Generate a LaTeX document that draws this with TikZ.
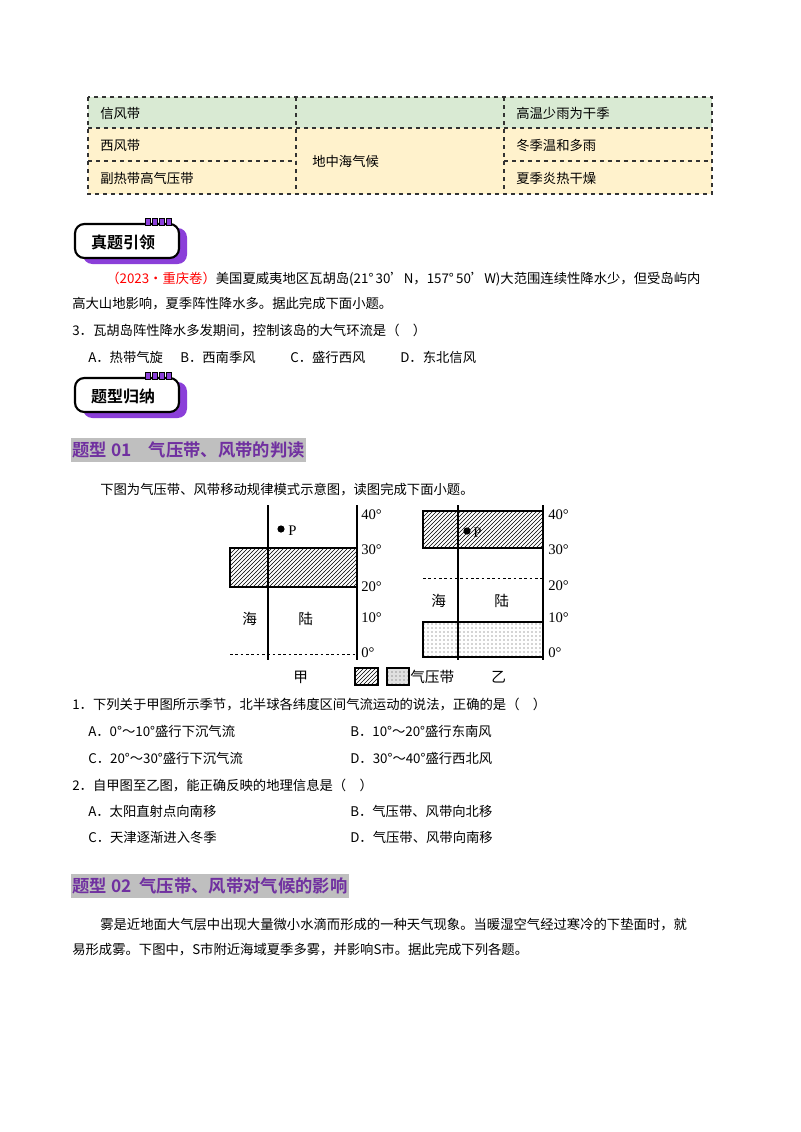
\documentclass[tikz,border=0pt]{standalone}
\usepackage{fontspec}
\setmainfont{Noto Sans CJK SC}[BoldFont={Noto Sans CJK SC Bold}]
\newfontfamily\serifnum{Liberation Serif}
\usetikzlibrary{patterns}
\definecolor{tgreen}{HTML}{D9EAD3}
\definecolor{tyellow}{HTML}{FFF2CC}
\definecolor{hpurple}{HTML}{7030A0}
\definecolor{badgep}{HTML}{8B3FD9}
\definecolor{hgray}{HTML}{BFBFBF}
\tikzset{
 txt/.style={anchor=west,inner sep=0pt,font=\fontsize{10}{12}\selectfont},
 big/.style={anchor=west,inner sep=0pt,font=\fontsize{11}{12}\selectfont},
 cell/.style={draw=black!80,dashed,line width=0.8pt},
 lbl/.style={anchor=west,inner sep=0pt,font=\serifnum\fontsize{11}{12}\selectfont},
 head/.style={anchor=west,fill=hgray,text=hpurple,font=\bfseries\fontsize{13}{15}\selectfont,inner xsep=1pt,inner ysep=3pt},
 axis/.style={line width=0.8pt},
 stip/.style={pattern=dots,pattern color=black!70,line width=0.8pt},
 dotl/.style={dashed,dash pattern=on 2pt off 2pt,line width=0.7pt}
}
\newcommand{\badge}[3]{%
 \fill[badgep,rounded corners=7pt] (#1+8,#2+4) rectangle (#1+112,#2+40);
 \draw[line width=1.6pt,fill=white,rounded corners=7pt] (#1,#2) rectangle (#1+104,#2+34);
 \foreach \k in {0,1,2,3}{\fill[badgep,draw=black,line width=0.6pt] (#1+70+\k*7,#2-6) rectangle (#1+75+\k*7,#2+1);}
 \node[font=\bfseries\fontsize{12}{14}\selectfont] at (#1+48,#2+18) {#3};}
\begin{document}
\begin{tikzpicture}[x=0.75pt,y=-0.75pt]
\useasboundingbox (0,0) rectangle (800,1132);
\fill[white] (0,0) rectangle (800,1132);
% table
\fill[tgreen] (88,97) rectangle (712,128);
\fill[tyellow] (88,128) rectangle (712,194);
\draw[cell] (88,97) rectangle (712,194);
\draw[cell] (88,128) -- (712,128);
\draw[cell] (88,161) -- (296,161);
\draw[cell] (504,161) -- (712,161);
\draw[cell] (296,97) -- (296,194);
\draw[cell] (504,97) -- (504,194);
\node[txt] (t1) at (100,113) {信风带};
\node[txt] (t2) at (100,145) {西风带};
\node[txt] (t3) at (100,178) {副热带高气压带};
\node[txt] (t4) at (312,161) {地中海气候};
\node[txt] (t5) at (516,113) {高温少雨为干季};
\node[txt] (t6) at (516,145) {冬季温和多雨};
\node[txt] (t7) at (516,178) {夏季炎热干燥};
% badge 1
\badge{75}{224}{真题引领}
\node[txt] (l1) at (106,279) {\textcolor{red}{（2023·重庆卷）}美国夏威夷地区瓦胡岛(21°\,30'N，157°\,50'W)大范围连续性降水少，但受岛屿内};
\node[txt] (l2) at (72,304) {高大山地影响，夏季阵性降水多。据此完成下面小题。};
\node[txt] (l3) at (72,330) {3．瓦胡岛阵性降水多发期间，控制该岛的大气环流是（\quad）};
\node[txt] (oa) at (88,357) {A．热带气旋};
\node[txt] (ob) at (180,357) {B．西南季风};
\node[txt] (oc) at (290,357) {C．盛行西风};
\node[txt] (od) at (400,357) {D．东北信风};
\badge{75}{378}{题型归纳}
\node[head] (h1) at (71,450) {题型 01\quad 气压带、风带的判读};
\node[txt] (l4) at (100,490) {下图为气压带、风带移动规律模式示意图，读图完成下面小题。};
% diagram 甲
\draw[pattern=north east lines,line width=0.8pt] (230,548) rectangle (357,587);
\draw[axis] (268,505) -- (268,660);
\draw[axis] (357,505) -- (357,660);
\draw[dotl] (230,654) -- (357,654);
\fill (281,529) circle (3.6);
\node[lbl] (p1) at (288,531) {P};
\node[lbl] at (361,515) {40°};
\node[lbl] at (361,550) {30°};
\node[lbl] at (361,587) {20°};
\node[lbl] at (361,618) {10°};
\node[lbl] at (361,653) {0°};
\node[big] at (242,619) {海};
\node[big] at (298,619) {陆};
% diagram 乙
\draw[pattern=north east lines,line width=0.8pt] (423,511) rectangle (543,548);
\draw[stip] (423,622) rectangle (543,657);
\draw[axis] (458,505) -- (458,660);
\draw[axis] (543,505) -- (543,660);
\draw[dotl] (423,578) -- (543,578);
\fill (467,531) circle (3.6);
\node[lbl] (p2) at (473,533) {P};
\node[lbl] at (548,515) {40°};
\node[lbl] at (548,550) {30°};
\node[lbl] at (548,586) {20°};
\node[lbl] at (548,618) {10°};
\node[lbl] at (548,653) {0°};
\node[big] at (431,601) {海};
\node[big] at (494,601) {陆};
% legend
\node[big] at (293,677) {甲};
\draw[pattern=north east lines,line width=0.8pt] (355,668) rectangle (378,685);
\fill[black!12] (387,668) rectangle (409,685);
\draw[stip] (387,668) rectangle (409,685);
\node[big] at (410,677) {气压带};
\node[big] at (491,677) {乙};
% questions
\node[txt] at (72,704) {1．下列关于甲图所示季节，北半球各纬度区间气流运动的说法，正确的是（\quad）};
\node[txt] at (88,731) {A．0°～10°盛行下沉气流};
\node[txt] at (350,731) {B．10°～20°盛行东南风};
\node[txt] at (88,758) {C．20°～30°盛行下沉气流};
\node[txt] at (350,758) {D．30°～40°盛行西北风};
\node[txt] at (72,785) {2．自甲图至乙图，能正确反映的地理信息是（\quad）};
\node[txt] at (88,811) {A．太阳直射点向南移};
\node[txt] at (350,811) {B．气压带、风带向北移};
\node[txt] at (88,837) {C．天津逐渐进入冬季};
\node[txt] at (350,837) {D．气压带、风带向南移};
\node[head] (h2) at (71,886) {题型 02\ \ 气压带、风带对气候的影响};
\node[txt] at (100,925) {雾是近地面大气层中出现大量微小水滴而形成的一种天气现象。当暖湿空气经过寒冷的下垫面时，就};
\node[txt] at (72,950) {易形成雾。下图中，S市附近海域夏季多雾，并影响S市。据此完成下列各题。};
\end{tikzpicture}
\end{document}
